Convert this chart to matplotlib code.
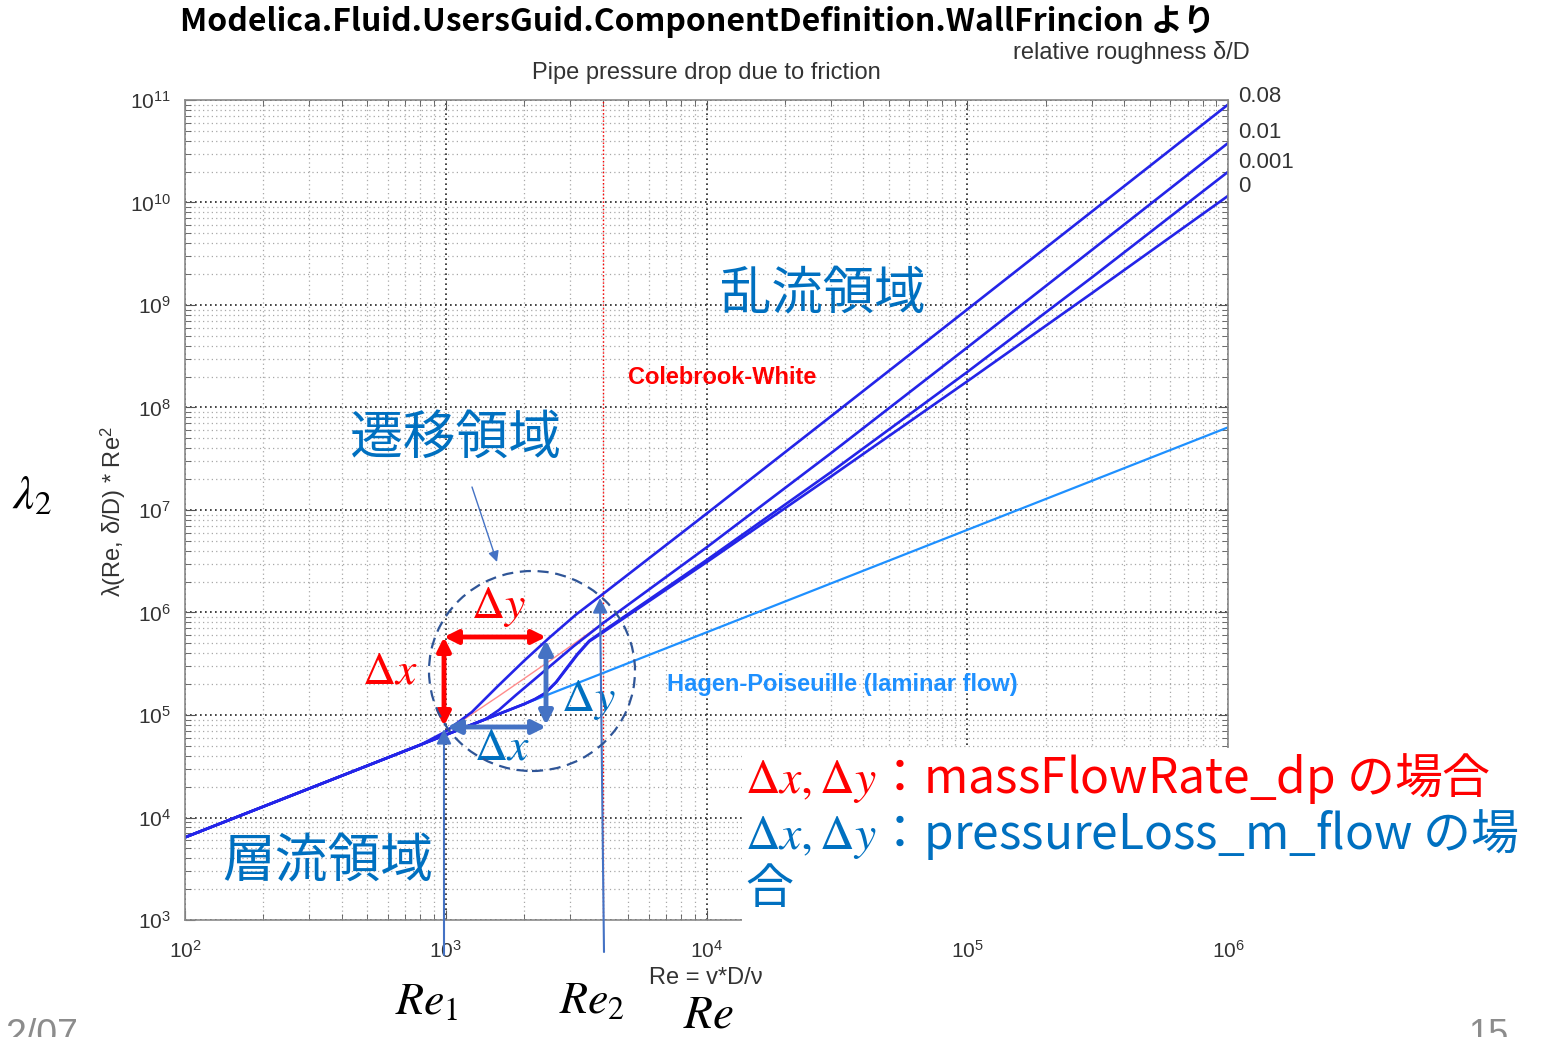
import numpy as np
import matplotlib.pyplot as plt
from matplotlib.patches import Ellipse, Rectangle, FancyArrowPatch
from matplotlib.ticker import LogLocator, NullFormatter

plt.rcParams['mathtext.fontset'] = 'stix'
plt.rcParams['font.family'] = ['Liberation Sans', 'DejaVu Sans']

W, H = 1545, 1037
JP = ['Noto Sans CJK JP', 'DejaVu Sans']

# ---- data (Re, lambda*Re^2) ----
re_hp = [1e2, 1e6]
lam2_hp = [6.4e3, 6.4e7]

re_r008 = [1e2, 800, 1000, 1260, 1580, 2000, 2510, 3160, 4000, 1e4, 3e4, 1e5, 3e5, 1e6]
lam2_r008 = [6.4e3, 5.12e4, 6.9e4, 1.07e5, 1.9e5, 3.39e5, 5.75e5, 9.55e5, 1.51e6,
             9.2e6, 8.2e7, 9.05e8, 8.13e9, 9.02e10]

re_r001 = [1e2, 1000, 1420, 1600, 1850, 2390, 3090, 4000, 1e4, 3e4, 1e5, 3e5, 1e6]
lam2_r001 = [6.4e3, 6.4e4, 9.1e4, 1.12e5, 1.55e5, 2.69e5, 4.68e5, 7.84e5,
             4.31e6, 3.58e7, 3.85e8, 3.43e9, 3.80e10]

re_r0001 = [1e2, 2000, 2200, 2400, 2650, 2900, 3200, 3550, 4000, 1e4, 3e4, 1e5, 3e5, 1e6]
lam2_r0001 = [6.4e3, 1.28e5, 1.43e5, 1.63e5, 2.1e5, 2.85e5, 3.95e5, 5.3e5, 6.55e5,
              3.24e6, 2.34e7, 2.22e8, 1.85e9, 1.99e10]

re_r0 = [1e2, 2000, 2200, 2400, 2650, 2900, 3200, 3550, 4000, 1e4, 3e4, 1e5, 3e5, 1e6]
lam2_r0 = [6.4e3, 1.28e5, 1.43e5, 1.62e5, 2.08e5, 2.8e5, 3.88e5, 5.22e5, 6.38e5,
           3.09e6, 2.12e7, 1.80e8, 1.30e9, 1.16e10]

# Colebrook-White (red, extended into transition zone)
re_cw = [1000, 1259, 1585, 1995, 2512, 3162, 4000]
lam2_cw = [6.86e4, 1.02e5, 1.51e5, 2.26e5, 3.39e5, 5.13e5, 7.84e5]

re_turb = 4000
rough_labels = ["0.08", "0.01", "0.001", "0"]
rough_label_y = [96, 133, 162, 187]


def fx(px):
    return px / W


def fy(py):
    return 1 - py / H


fig = plt.figure(figsize=(W / 100, H / 100), dpi=100)
ax = fig.add_axes([fx(185), fy(920), (1228 - 185) / W, (920 - 100) / H])
ax.set_xscale('log')
ax.set_yscale('log')
ax.set_xlim(1e2, 1e6)
ax.set_ylim(1e3, 1e11)

for a in (ax.xaxis, ax.yaxis):
    a.set_major_locator(LogLocator(base=10, numticks=20))
    a.set_minor_locator(LogLocator(base=10, subs=np.arange(2, 10), numticks=200))
    a.set_minor_formatter(NullFormatter())

ax.grid(True, which='major', ls=(0, (1, 2)), color='#222222', lw=1.2)
ax.grid(True, which='minor', ls=(0, (1, 2.5)), color='#a8a8a8', lw=0.9)
ax.tick_params(which='both', direction='in', top=True, right=True, colors='#555555',
               labelcolor='#333333', labelsize=15)
ax.tick_params(which='major', length=7)
ax.tick_params(which='minor', length=4)
ax.tick_params(axis='x', pad=14)
ax.tick_params(axis='y', pad=10)
for s in ax.spines.values():
    s.set_color('#8a8a8a')
    s.set_linewidth(1.2)

ax.axvline(re_turb, color='red', ls=':', lw=1.0)
ax.plot(re_hp, lam2_hp, color='#1E90FF', lw=1.6)
ax.plot(re_cw, lam2_cw, color='#FF8C8C', lw=1.0)
dark = '#2424E8'
for re, l2 in [(re_r008, lam2_r008), (re_r001, lam2_r001),
               (re_r0001, lam2_r0001), (re_r0, lam2_r0)]:
    ax.plot(re, l2, color=dark, lw=1.9)

# ---- chart texts ----
grey = '#333333'
fig.text(fx(706), fy(73), 'Pipe pressure drop due to friction', ha='center', va='center',
         fontsize=17, color=grey)
fig.text(fx(1250), fy(52), 'relative roughness δ/D', ha='right', va='center',
         fontsize=17, color=grey)
for lab, py in zip(rough_labels, rough_label_y):
    fig.text(fx(1238), fy(py), lab, ha='left', va='center', fontsize=16, color=grey)
fig.text(fx(113), fy(512), r'λ(Re, δ/D) * Re$^\mathregular{2}$', rotation=90,
         ha='center', va='center', fontsize=17, color=grey)
fig.text(fx(706), fy(978), 'Re = v*D/ν', ha='center', va='center', fontsize=17, color=grey)
fig.text(fx(628), fy(377), 'Colebrook-White', ha='left', va='center', fontsize=17,
         color='red', fontweight='bold')
fig.text(fx(667), fy(685), 'Hagen-Poiseuille (laminar flow)', ha='left', va='center',
         fontsize=17, color='#1E90FF', fontweight='bold')

# white text box of the slide covering part of the plot
fig.add_artist(Rectangle((fx(742), fy(928)), (W - 742) / W, (928 - 748) / H,
                         transform=fig.transFigure, facecolor='white',
                         edgecolor='none', zorder=2))

# ---- slide overlays ----
fig.text(fx(697), fy(22), 'Modelica.Fluid.UsersGuid.ComponentDefinition.WallFrincion より',
         ha='center', va='center', fontsize=23, fontweight='bold', family=JP)
blue_txt = '#0070C0'
fig.text(fx(720), fy(295), '乱流領域', color=blue_txt, fontsize=37, va='center', family=JP)
fig.text(fx(350), fy(438), '遷移領域', color=blue_txt, fontsize=38, va='center', family=JP)
fig.text(fx(222), fy(862), '層流領域', color=blue_txt, fontsize=38, va='center', family=JP)

fig.text(fx(498), fy(607), r'$\Delta y$', color='red', fontsize=33, ha='center', va='center')
fig.text(fx(390), fy(672), r'$\Delta x$', color='red', fontsize=33, ha='center', va='center')
fig.text(fx(588), fy(700), r'$\Delta y$', color=blue_txt, fontsize=33, ha='center', va='center')
fig.text(fx(502), fy(748), r'$\Delta x$', color=blue_txt, fontsize=33, ha='center', va='center')

fig.text(fx(12), fy(497), r'$\lambda_2$', fontsize=34, ha='left', va='center')
fig.text(fx(427), fy(1002), r'$Re_1$', fontsize=33, ha='center', va='center')
fig.text(fx(592), fy(1001), r'$Re_2$', fontsize=33, ha='center', va='center')
fig.text(fx(708), fy(1016), r'$Re$', fontsize=34, ha='center', va='center')

fig.text(fx(745), fy(778), r'$\Delta x,\Delta y$：massFlowRate_dp の場合', color='red',
         fontsize=34.5, ha='left', va='center', family=JP, zorder=4)
fig.text(fx(745), fy(834), r'$\Delta x,\Delta y$：pressureLoss_m_flow の場', color=blue_txt,
         fontsize=34.5, ha='left', va='center', family=JP, zorder=4)
fig.text(fx(745), fy(889), '合', color=blue_txt, fontsize=34.5, ha='left', va='center',
         family=JP, zorder=4)

fig.text(fx(5), fy(1018), '2/07', color='#8c8c8c', fontsize=27, ha='left', va='top')
fig.text(fx(1468), fy(1018), '15', color='#8c8c8c', fontsize=26, ha='left', va='top')


def arrow(p0, p1, style, color, lw, ms):
    fig.add_artist(FancyArrowPatch((fx(p0[0]), fy(p0[1])), (fx(p1[0]), fy(p1[1])),
                                   transform=fig.transFigure, arrowstyle=style,
                                   color=color, lw=lw, mutation_scale=ms, zorder=5,
                                   shrinkA=0, shrinkB=0))


red = '#FF0000'
arr_blue = '#4472C4'
arrow((444, 637), (546, 637), '<|-|>', red, 3.5, 20)
arrow((444, 637), (444, 726), '<|-|>', red, 3.5, 20)
arrow((447, 727), (546, 727), '<|-|>', arr_blue, 3.5, 20)
arrow((546, 640), (546, 725), '<|-|>', arr_blue, 3.5, 20)
arrow((472, 487), (497, 562), '-|>', arr_blue, 1.0, 16)
arrow((444, 955), (444, 729), '-|>', arr_blue, 1.5, 22)
arrow((604, 952), (600, 598), '-|>', arr_blue, 1.5, 22)

fig.add_artist(Ellipse((fx(532), fy(671)), 206 / W, 200 / H, transform=fig.transFigure,
                       fill=False, ls=(0, (5, 3)), lw=1.6, ec='#2F5597', zorder=5))

fig.savefig('out.png', dpi=100)
